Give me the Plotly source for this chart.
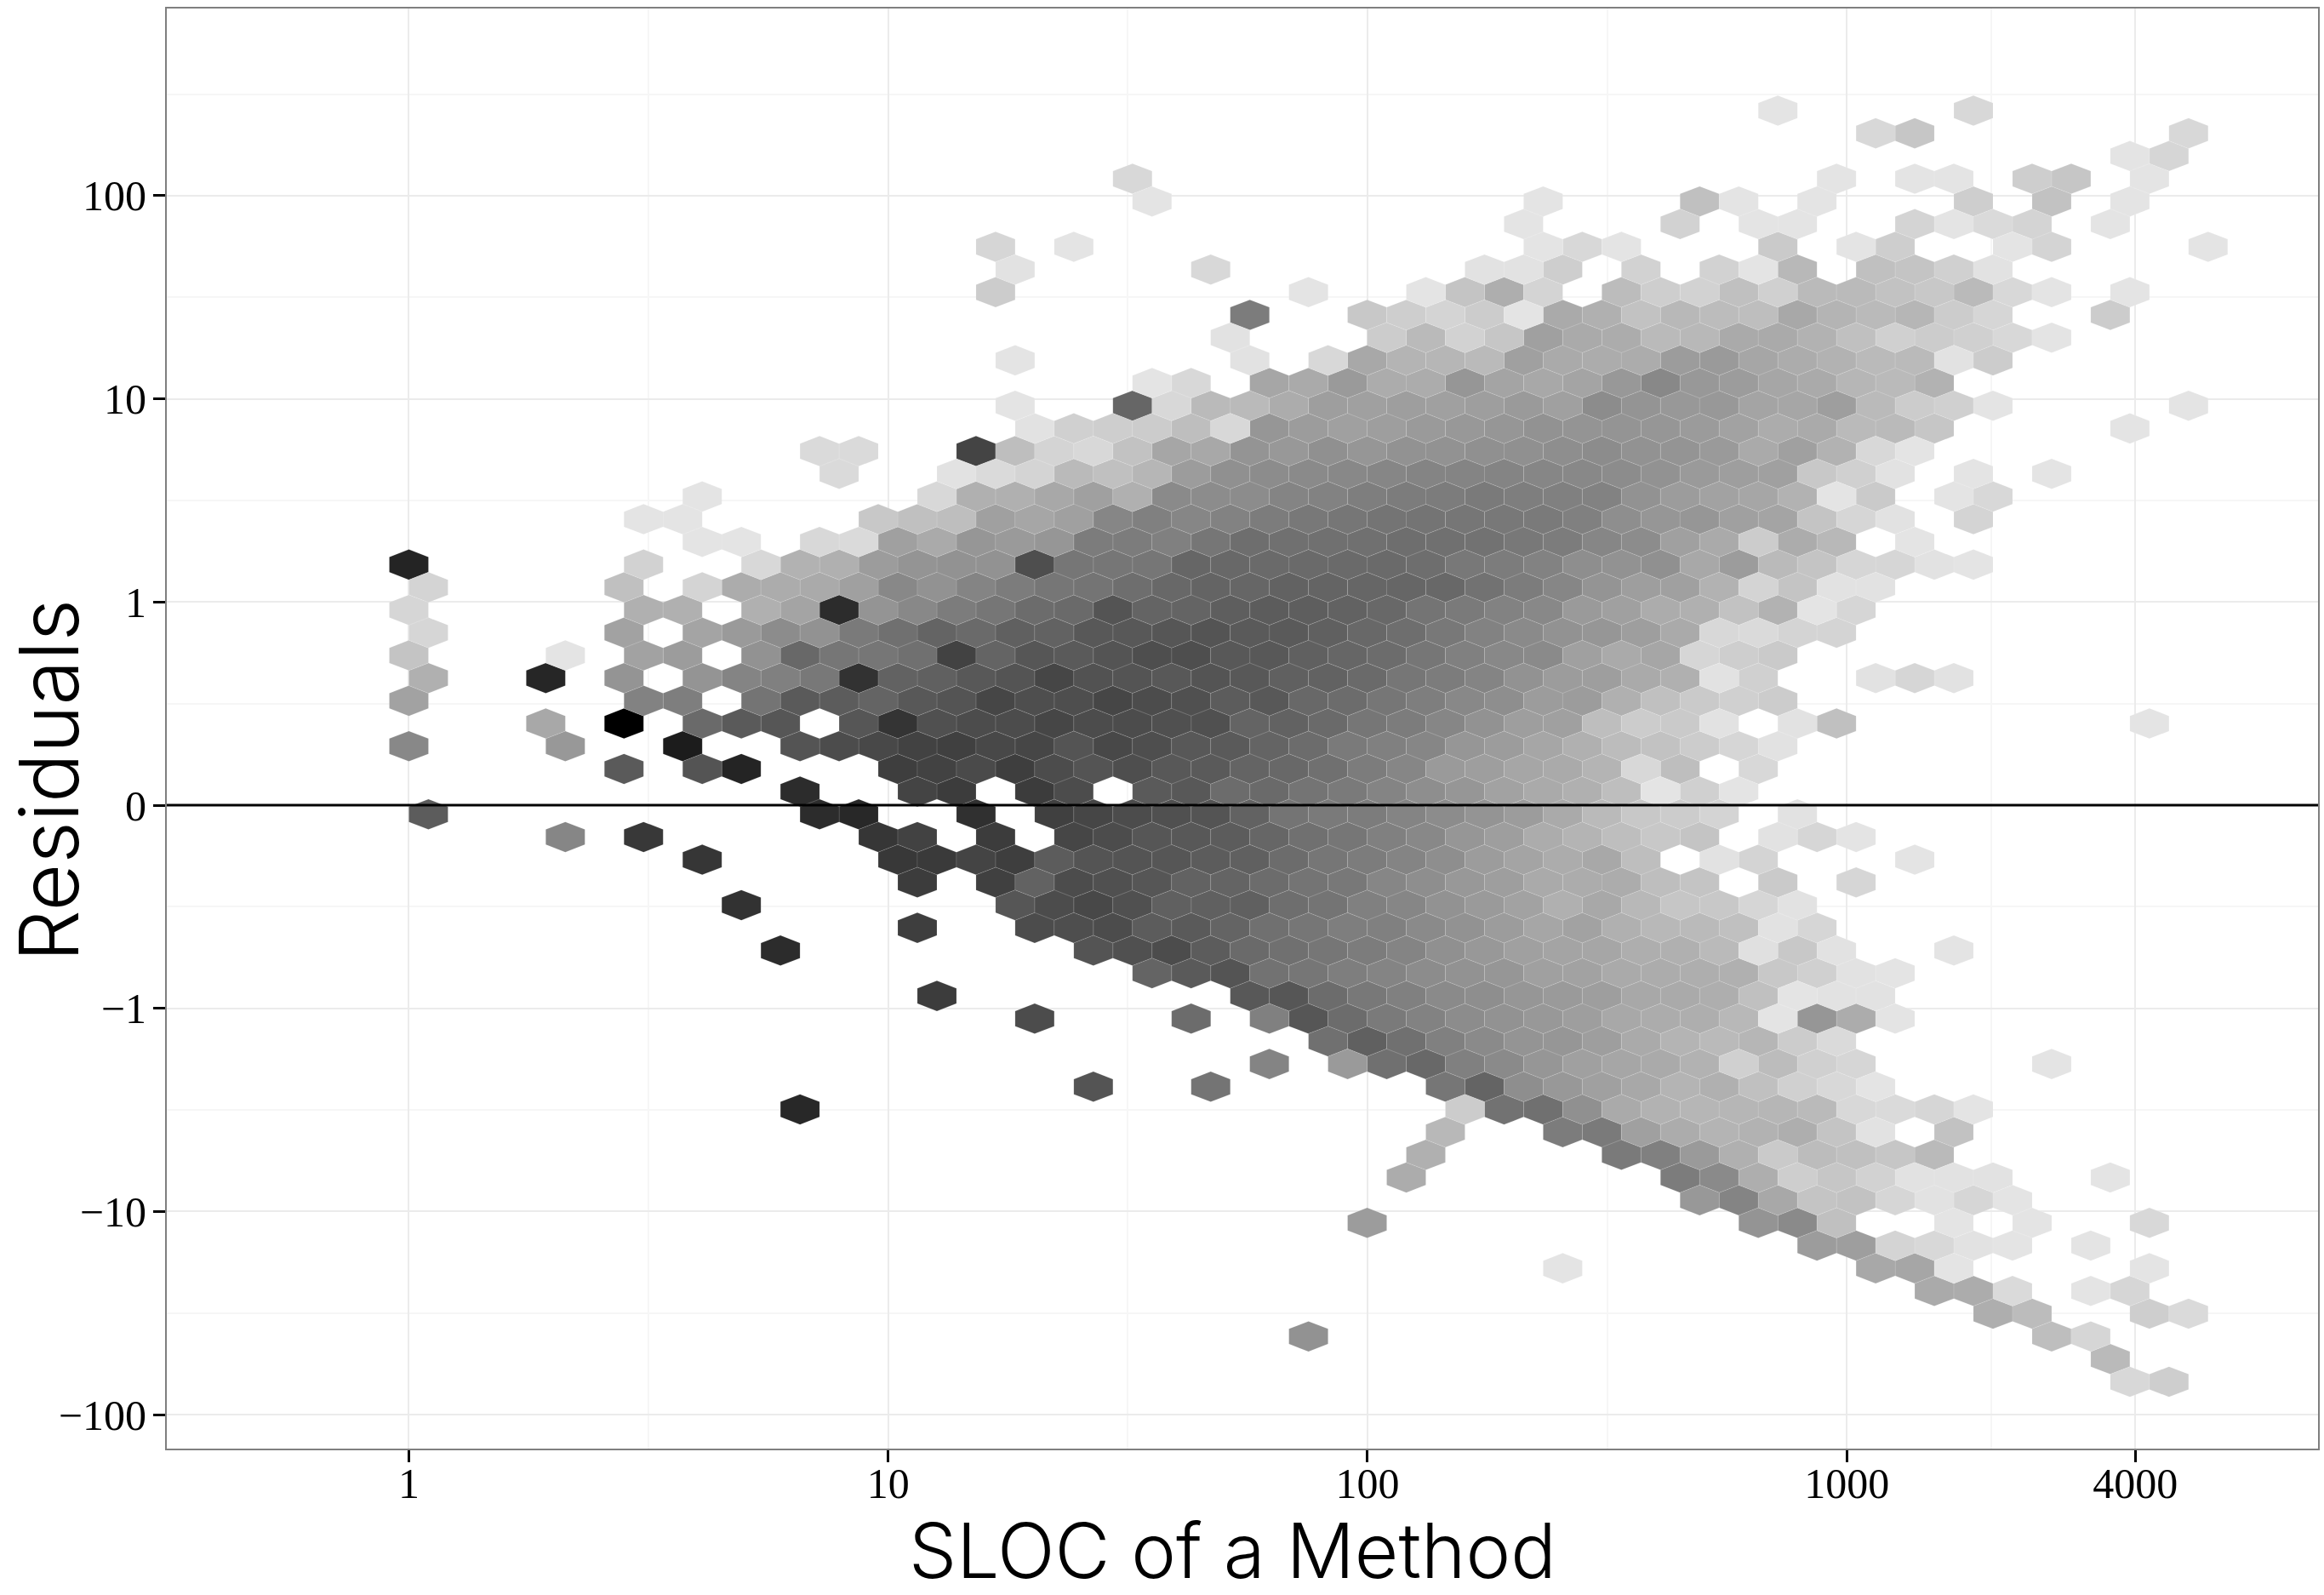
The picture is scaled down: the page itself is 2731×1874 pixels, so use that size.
import plotly.graph_objects as go

# Hexbin cells. Each row of the hex grid, top to bottom:
# {first column in a run: [grey shade of each cell in that run]}
r00 = {35:[228], 40:[216]}
r01 = {37:[216,198], 45:[216]}
r02 = {44:[228,214]}
r03 = {18:[216], 36:[228], 38:[228,228], 41:[206,198], 44:[228]}
r04 = {19:[228], 29:[228], 33:[192,228], 36:[228], 40:[206], 42:[194], 44:[228]}
r05 = {28:[228], 32:[210], 34:[228,228], 38:[212,228,218,212], 43:[228]}
r06 = {15:[214], 17:[228], 29:[228,216,228], 35:[202], 37:[228,206], 41:[228,212], 46:[228]}
r07 = {15:[226], 20:[216], 27:[226,226,206], 31:[210], 33:[210,228,184], 37:[192,196,208,226]}
r08 = {15:[204], 23:[228], 26:[228,196,174,212], 31:[188,206,210,192,208,186,186,194,200,186,216,228], 44:[228]}
r09 = {21:[124], 24:[200,206,212,204,228,170,176,194,184,188,190,168,180,186,182,204,214], 43:[204]}
r10 = {21:[226], 25:[204,186,210,198,160,170,172,186,184,170,170,178,192,208,204,208,216,228]}
r11 = {15:[228], 21:[226], 23:[216,168,180,182,186,160,170,172,172,156,154,166,172,178,186,186,226,204]}
r12 = {19:[228,216], 22:[166,170,154,172,172,150,164,168,164,152,136,152,156,166,170,182,186,178]}
r13 = {15:[228], 18:[102,216,186,186,172,158,160,158,160,158,154,160,140,148,152,152,164,166,158,186,204,208,228], 45:[228]}
r14 = {16:[226,208,206,204,190,216,150,156,160,158,154,152,150,146,148,148,150,155,162,172,170,186,186,198], 44:[228]}
r15 = {10:[218,218], 14:[68,190,212,216,194,166,168,148,152,144,150,146,146,144,144,142,140,146,148,154,170,160,178,216,228]}
r16 = {11:[218], 14:[226,218,212,186,192,182,156,144,140,138,136,134,132,132,132,134,136,140,146,154,158,160,200,208,226], 40:[228], 42:[228]}
r17 = {7:[228], 13:[216,176,176,168,160,176,138,140,140,132,130,126,124,124,122,126,128,130,146,156,162,166,178,228,202], 39:[228,216]}
r18 = {6:[228,228], 12:[200,192,190,160,166,160,134,128,134,130,124,120,118,116,116,118,120,122,128,142,150,150,160,164,196,214,226], 40:[212]}
r19 = {7:[228,228], 10:[216,218,160,170,150,154,150,124,124,128,118,110,112,112,112,110,112,114,120,124,134,140,160,170,204,172,184], 38:[228]}
r20 = {0:[36], 6:[210], 9:[216,178,176,156,148,146,146,78,118,118,118,102,104,106,106,106,106,110,120,124,130,142,146,144,168,156,186,196,214,214,226,228]}
r21 = {0:[212], 5:[192], 7:[212,172,172,170,160,136,146,132,124,118,116,110,104,100,102,98,100,102,102,104,114,124,134,148,158,160,178,212,196,226,226]}
r22 = {0:[214], 6:[176,176], 9:[176,164,44,148,136,124,118,108,106,84,100,100,94,92,94,98,104,116,122,130,136,154,160,172,176,194,178,228,214]}
r23 = {0:[214], 5:[162], 7:[164,154,140,146,122,112,100,106,96,98,88,88,86,84,90,90,96,104,110,120,130,138,146,150,158,170,216,218,212,212]}
r24 = {0:[196], 4:[228], 6:[162,156], 9:[146,104,118,118,112,66,100,86,90,84,78,78,88,88,96,102,108,118,128,136,138,160,170,166,214,206,202]}
r25 = {0:[176], 3:[38], 5:[148], 7:[148,132,128,120,50,98,96,88,84,70,82,84,88,84,88,96,98,106,118,124,132,146,156,158,170,176,226,208], 37:[226,214,226]}
r26 = {0:[162], 6:[130,126], 9:[116,90,92,100,88,84,70,78,78,70,76,80,92,88,104,108,118,126,136,142,156,156,176,192,202,208,204]}
r27 = {3:[168], 5:[0], 7:[106,90,86], 11:[86,52,80,76,76,70,76,76,80,80,100,98,106,118,124,134,146,158,160,190,204,202,226], 35:[226,192], 44:[228]}
r28 = {0:[136], 4:[152], 7:[28], 10:[84,76,72,66,64,72,70,84,72,78,88,90,100,108,122,128,134,150,156,166,176,188,194,204,214,226]}
r29 = {5:[90], 7:[84,36], 12:[62,66,74,62,76,84,78,88,90,100,104,112,124,134,154,158,166,170,180,216,190], 34:[216]}
r30 = {10:[44], 13:[68,60], 16:[60,76], 19:[90,88,108,106,116,122,132,142,150,162,170,176,190,228,208,228]}
r31 = {0:[92], 10:[44,40], 14:[48], 16:[64,70,76,80,84,98,116,122,124,132,140,148,156,170,186,200,204,212], 35:[226]}
r32 = {4:[134], 6:[56], 12:[54,66], 15:[60], 17:[70,76,86,88,92,102,112,118,128,136,150,158,172,180,190,200,196], 35:[226,214,228]}
r33 = {7:[54], 12:[56,58,68,62,92,84,84,86,92,96,108,118,124,132,142,156,164,172,168,190], 33:[226,212], 38:[228]}
r34 = {13:[60], 15:[64,98,76,80,86,98,100,108,116,120,134,142,152,158,170,172,172,190,196], 35:[202], 37:[214]}
r35 = {8:[50], 15:[86,76,72,80,96,96,96,110,116,128,134,146,154,162,176,168,184,198,200,214,226]}
r36 = {13:[62], 16:[76,78,76,92,90,100,112,118,126,128,138,146,156,166,162,176,184,186,192,226,214]}
r37 = {9:[44], 17:[84,80,76,92,106,112,118,124,132,144,152,160,164,166,174,176,186,224,200,226], 39:[228]}
r38 = {19:[100,90,84,114,118,126,132,140,146,150,160,162,170,172,174,176,200,208,226,228]}
r39 = {13:[60], 21:[88,86,108,120,128,138,142,150,154,158,168,170,174,192,228,226,226]}
r40 = {16:[76], 20:[108], 22:[128,86,108,122,130,140,146,152,158,168,172,174,184,228,150,172,228]}
r41 = {23:[112,96,112,128,138,148,150,158,170,180,186,182,204,218]}
r42 = {22:[132], 24:[154,112,104,128,138,150,160,166,170,178,208,188,208,214], 42:[228]}
r43 = {17:[84], 20:[116], 26:[118,100,142,152,160,168,180,176,192,208,216,228]}
r44 = {10:[40], 27:[204,114,112,144,170,178,182,182,182,186,216,218,214,228]}
r45 = {26:[184], 29:[124,122,160,172,180,178,174,196,226], 39:[194]}
r46 = {26:[176], 31:[122,128,154,176,202,188,192,198,186]}
r47 = {25:[172], 32:[124,138,174,206,198,210,226,226,226], 43:[228]}
r48 = {33:[152,132,168,196,194,214,226,214,228]}
r49 = {24:[156], 34:[148,138,192], 39:[228], 41:[228], 44:[216]}
r50 = {36:[156,158,212,216,226,228], 43:[228]}
r51 = {29:[228], 37:[168,166,228], 44:[228]}
r52 = {39:[170,172,218], 43:[228,214]}
r53 = {40:[174,188], 44:[206,218]}
r54 = {23:[146], 42:[190,214]}
r55 = {43:[186]}
r56 = {44:[216,206]}
grid_rows = [r00,r01,r02,r03,r04,r05,r06,r07,r08,r09,r10,r11,r12,r13,r14,r15,r16,r17,r18,r19,
             r20,r21,r22,r23,r24,r25,r26,r27,r28,r29,r30,r31,r32,r33,r34,r35,r36,r37,r38,r39,
             r40,r41,r42,r43,r44,r45,r46,r47,r48,r49,r50,r51,r52,r53,r54,r55,r56]

x_ticks = [1, 10, 100, 1000, 4000]
x_tick_labels = ["1", "10", "100", "1000", "4000"]
x_minor = [10**0.5, 10**1.5, 10**2.5, 2000]
y_ticks = [-3, -2, -1, 0, 1, 2, 3]          # signed-log units: 0, ±1, ±10, ±100
y_tick_labels = ["\u2212100", "\u221210", "\u22121", "0", "1", "10", "100"]
y_minor = [-2.5, -1.5, -0.5, 0.5, 1.5, 2.5, 3.5]

BIN_X = 46.0 / 563.7       # decades per hex column
BIN_Y = 26.67 / 238.7      # signed-log units per hex row
Y_TOP = 3.4186             # signed-log position of the top row

W, H = 2731, 1874
L, R_, T, B = 196, 2726, 10, 1702

# Collect hexagon outlines per shade so that each shade is one filled trace
outlines = {}
for r, row in enumerate(grid_rows):
    cy = Y_TOP - r * BIN_Y
    for start, shades in row.items():
        for k, shade in enumerate(shades):
            cx = (start + k + 0.5 * (r % 2)) * BIN_X
            dx, dy = BIN_X / 2, BIN_Y * 2 / 3
            px = [cx, cx + dx, cx + dx, cx, cx - dx, cx - dx, cx, None]
            py = [cy + dy, cy + dy / 2, cy - dy / 2, cy - dy, cy - dy / 2, cy + dy / 2, cy + dy, None]
            xs, ys = outlines.setdefault(shade, ([], []))
            xs.extend(None if v is None else 10 ** v for v in px)
            ys.extend(py)

fig = go.Figure()
for shade in sorted(outlines):
    xs, ys = outlines[shade]
    fig.add_trace(go.Scatter(
        x=xs, y=ys, mode="lines", fill="toself",
        fillcolor=f"rgb({shade},{shade},{shade})",
        line=dict(color="rgba(255,255,255,0.16)", width=0.7),
        hoverinfo="skip", showlegend=False,
    ))

tick_font = dict(family="Liberation Serif", size=50, color="black")
GRID = "#ebebeb"
MINOR = "#f6f6f6"

fig.update_xaxes(
    type="log", range=[(L - 480.7) / 563.7, (R_ - 480.7) / 563.7],
    tickmode="array", tickvals=x_ticks, ticktext=x_tick_labels, tickfont=tick_font,
    ticks="outside", ticklen=14, tickwidth=2.6, tickcolor="black", ticklabelstandoff=-18,
    showgrid=True, gridcolor=GRID, gridwidth=1.5, zeroline=False,
    minor=dict(tickmode="array", tickvals=x_minor, showgrid=True, gridcolor=MINOR, gridwidth=1.5, ticks=""),
    showline=True, linecolor="#7f7f7f", linewidth=2, mirror=True,
)
fig.update_yaxes(
    range=[(946 - B) / 238.7, (946 - T) / 238.7],
    tickmode="array", tickvals=y_ticks, ticktext=y_tick_labels, tickfont=tick_font,
    ticks="outside", ticklen=14, tickwidth=2.6, tickcolor="black", ticklabelstandoff=-2,
    showgrid=True, gridcolor=GRID, gridwidth=1.5, zeroline=False,
    minor=dict(tickmode="array", tickvals=y_minor, showgrid=True, gridcolor=MINOR, gridwidth=1.5, ticks=""),
    showline=True, linecolor="#7f7f7f", linewidth=2, mirror=True,
)

fig.add_shape(type="line", xref="paper", x0=0, x1=1, yref="y", y0=0, y1=0,
              line=dict(color="black", width=3), layer="above")

fig.add_annotation(text="SLOC of a Method", xref="paper", yref="paper",
                   x=(1449 - L) / (R_ - L), y=(B - 1821) / (B - T),
                   xanchor="center", yanchor="middle", showarrow=False,
                   font=dict(family="Inter", size=89, color="black", weight=300))
fig.add_annotation(text="Residuals", xref="paper", yref="paper",
                   x=(57 - L) / (R_ - L), y=(B - 917) / (B - T),
                   xanchor="center", yanchor="middle", showarrow=False, textangle=-90,
                   font=dict(family="Inter", size=96, color="black", weight=300))

fig.update_layout(
    width=W, height=H, autosize=False,
    margin=dict(l=L, r=W - R_, t=T, b=H - B, pad=0),
    paper_bgcolor="white", plot_bgcolor="white", showlegend=False,
)

fig.write_html("out.html", config={"displayModeBar": False},
               post_script="document.body.style.margin='0';")
